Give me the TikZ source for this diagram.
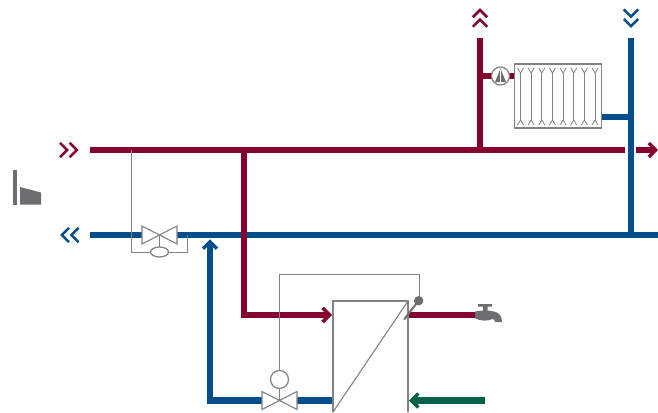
\documentclass[tikz,border=0pt]{standalone}
\usetikzlibrary{shapes.geometric}
\definecolor{hot}{HTML}{85002F}
\definecolor{cold}{HTML}{004F8C}
\definecolor{fresh}{HTML}{006248}
\definecolor{sym}{HTML}{6D6E71}
\definecolor{thin}{HTML}{808285}
\tikzset{
  x=1pt,y=-1pt,
  pipe/.style={line width=6.8pt,line join=miter},
  hotpipe/.style={pipe,draw=hot},
  coldpipe/.style={pipe,draw=cold},
  freshpipe/.style={pipe,draw=fresh},
  ctl/.style={draw=thin,line width=1pt},
  chev/.style={line width=2.5pt,line join=miter,line cap=butt},
  head/.style={line width=3.4pt,line join=miter,line cap=butt},
  symb/.style={draw=thin,line width=1.1pt,fill=white,line join=miter},
  ribs/.style={draw=thin,line width=1.1pt},
}
\newcommand{\valvebody}[4]{% cx, cy, halfwidth, halfheight
  \draw[symb] (#1,#2) -- (#1-#3,#2-#4) -- (#1-#3,#2+#4) -- cycle;
  \draw[symb] (#1,#2) -- (#1+#3,#2-#4) -- (#1+#3,#2+#4) -- cycle;}
\newcommand{\chevR}[3]{\draw[chev,#3] (#1,#2-7.2) -- (#1+7.2,#2) -- (#1,#2+7.2);}
\newcommand{\chevL}[3]{\draw[chev,#3] (#1,#2-7.2) -- (#1-7.2,#2) -- (#1,#2+7.2);}
\newcommand{\chevU}[3]{\draw[chev,#3] (#1-7.2,#2+7.2) -- (#1,#2) -- (#1+7.2,#2+7.2);}
\newcommand{\chevD}[3]{\draw[chev,#3] (#1-7.2,#2-7.2) -- (#1,#2) -- (#1+7.2,#2-7.2);}
\begin{document}
\begin{tikzpicture}
\useasboundingbox (0,0) rectangle (658,412);
% pipes
\coordinate (hm0) at (90,150); \coordinate (hm1) at (625,150);
\coordinate (hm2) at (636,150); \coordinate (hm3) at (654,150);
\coordinate (cm0) at (90,235); \coordinate (cv0) at (142,235);
\coordinate (cv1) at (177,235); \coordinate (cm1) at (658,235);
\draw[hotpipe] (hm0) -- (hm1);
\draw[hotpipe] (hm2) -- (hm3);
\draw[head,hot] (648.8,143) -- (655.6,150) -- (648.8,157);
\draw[coldpipe] (cm0) -- (cv0);
\draw[coldpipe] (cv1) -- (cm1);
\draw[hotpipe] (480,38) -- (480,150);
\draw[hotpipe] (480,76) -- (515,76);
\draw[coldpipe] (631,38) -- (631,238.4);
\draw[coldpipe] (602,117) -- (631,117);
\draw[hotpipe] (244,150) -- (244,315) -- (328,315);
\draw[head,hot] (322.6,308) -- (329.6,315) -- (322.6,322);
\draw[coldpipe] (333,400.5) -- (297,400.5);
\draw[coldpipe] (262,400.5) -- (210,400.5) -- (210,243);
\draw[head,cold] (203,248.7) -- (210,241.7) -- (217,248.7);
\draw[hotpipe] (408,315) -- (476,315);
\draw[freshpipe] (485,400.5) -- (413,400.5);
\draw[head,fresh] (418.4,393.5) -- (411.4,400.5) -- (418.4,407.5);
% chevrons
\chevU{480}{10}{hot} \chevU{480}{19.6}{hot}
\chevD{631}{16.6}{cold} \chevD{631}{26.2}{cold}
\chevR{60}{150}{hot} \chevR{69.6}{150}{hot}
\chevL{69}{235}{cold} \chevL{78.6}{235}{cold}
% plant icon
\fill[sym] (13,170) rectangle (17,205);
\fill[sym] (20,187) -- (41,192.5) -- (41,204.5) -- (20,204.5) -- cycle;
% radiator
\draw[symb,fill=white] (514.5,64) rectangle (601.7,128);
\foreach \i in {0,...,7}{
  \pgfmathsetmacro{\xx}{520.5+\i*10.65}
  \draw[ribs] (\xx,73) -- (\xx,120);
  \draw[ribs,line width=.8pt] (\xx-3,68) -- (\xx,73) -- (\xx+3,68);
  \draw[ribs,line width=.8pt] (\xx-3,125) -- (\xx,120) -- (\xx+3,125);
}
% pump
\node[circle,draw=thin,line width=1.25pt,fill=white,minimum size=18pt,inner sep=0pt] (pump) at (500.5,76) {};
\fill[sym] (500.5,68.5) -- (506,82) -- (495,82) -- cycle;
\draw[white,line width=.7pt] (500.5,70) -- (500.5,82);
% bypass valve and its control line
\draw[ctl] (131,150) -- (131,252) -- (187.5,252) -- (187.5,235);
\valvebody{159.5}{235}{17.5}{9}
\draw[symb] (159.5,235) -- (159.5,247);
\node[ellipse,draw=thin,line width=1.25pt,fill=white,minimum width=18pt,minimum height=10pt,inner sep=0pt] (actb) at (159.5,252) {};
% return valve, control line
\draw[ctl] (279,370) -- (279,274.5) -- (419.5,274.5) -- (419.5,298);
\valvebody{279.5}{400.5}{17.5}{9}
\draw[symb] (279.5,400.5) -- (279.5,388);
\node[circle,draw=thin,line width=1.25pt,fill=white,minimum size=18pt,inner sep=0pt] (acta) at (279.5,379.5) {};
% heat exchanger
\draw[symb,fill=none] (333,412) -- (333,301) -- (408,301) -- (408,412);
\draw[symb,fill=none] (408,301) -- (333,412);
% sensor
\draw[draw=sym,line width=2pt] (404,319.5) -- (418.7,300.7);
\fill[sym] (418.7,300.7) circle (4.7);
% faucet
\fill[sym] (478,304) -- (492,304) -- (492,306.5) -- (487.5,306.5) -- (487.5,310.5)
  -- (494,311.5) .. controls (499,312.5) and (502,316) .. (502,322) -- (495,322)
  .. controls (495,320) and (494.5,319) .. (492,319) .. controls (488,321.5) and (481,321) .. (475,318.5)
  -- (475,311.5) -- (483,310.5) -- (483,306.5) -- (478,306.5) -- cycle;
\end{tikzpicture}
\end{document}
